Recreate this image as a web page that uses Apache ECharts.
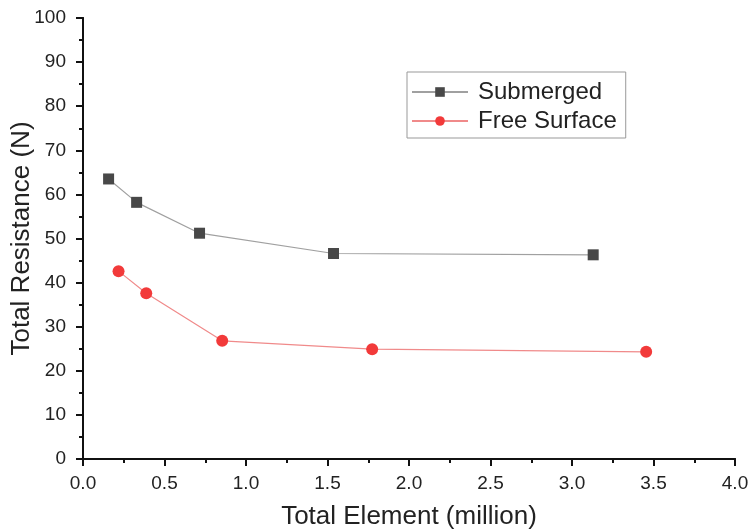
<!DOCTYPE html>
<html>
<head>
<meta charset="utf-8">
<script src="https://cdn.jsdelivr.net/npm/echarts@6/dist/echarts.min.js"></script>
<style>
  html, body { margin: 0; padding: 0; background: #fff; }
  #chart { width: 749px; height: 529px; }
</style>
</head>
<body>
<div id="chart"></div>
<script>
// values
var submergedX = [0.157, 0.329, 0.715, 1.537, 3.13];
var submergedY = [63.5, 58.2, 51.2, 46.6, 46.3];
var freeX = [0.218, 0.388, 0.854, 1.774, 3.455];
var freeY = [42.6, 37.6, 26.8, 24.9, 24.3];

function pairs(xs, ys) {
  var out = [];
  for (var i = 0; i < xs.length; i++) {
    out.push([xs[i], ys[i]]);
  }
  return out;
}

var chart = echarts.init(document.getElementById('chart'));

var FONT = 'Liberation Sans, Arial, sans-serif';
var axisLine = { show: true, lineStyle: { color: '#111', width: 2 } };
var outTick = { show: true, length: 7, lineStyle: { color: '#111', width: 2 } };
var inTick = { show: true, inside: true, length: 7, lineStyle: { color: '#111', width: 2 } };
var minor = { show: true, splitNumber: 2, length: 4, lineStyle: { color: '#111', width: 2 } };

var option = {
  animation: false,
  backgroundColor: '#fff',
  grid: { left: 83, right: 14, top: 18, bottom: 70, containLabel: false, outerBoundsMode: 'none' },
  legend: {
    left: 407,
    top: 72,
    orient: 'vertical',
    itemWidth: 56,
    itemHeight: 12,
    itemGap: 5,
    padding: [8, 9, 5, 4],
    borderColor: '#999',
    borderWidth: 1,
    textStyle: { fontSize: 24, color: '#222', fontFamily: FONT, padding: [0, 0, 0, 5] },
    data: ['Submerged', 'Free Surface']
  },
  xAxis: [{
    type: 'value',
    min: 0, max: 4, interval: 0.5,
    name: 'Total Element (million)',
    nameLocation: 'middle',
    nameGap: 45,
    nameMoveOverlap: false,
    nameTextStyle: { fontSize: 26, color: '#222', fontFamily: FONT },
    axisLine: axisLine,
    axisTick: outTick,
    minorTick: minor,
    splitLine: { show: false },
    axisLabel: {
      margin: 15,
      fontSize: 19,
      color: '#222',
      fontFamily: FONT,
      formatter: function (v) { return v.toFixed(1); }
    }
  }, {
    type: 'value',
    position: 'top',
    min: 0, max: 4, interval: 0.5,
    axisLine: axisLine,
    axisTick: inTick,
    minorTick: minor,
    splitLine: { show: false },
    axisLabel: { show: false }
  }],
  yAxis: [{
    type: 'value',
    min: 0, max: 100, interval: 10,
    name: 'Total Resistance (N)',
    nameLocation: 'middle',
    nameGap: 48,
    nameMoveOverlap: false,
    nameTextStyle: { fontSize: 26, color: '#222', fontFamily: FONT },
    axisLine: axisLine,
    axisTick: outTick,
    minorTick: minor,
    splitLine: { show: false },
    axisLabel: { margin: 17, fontSize: 19, color: '#222', fontFamily: FONT }
  }, {
    type: 'value',
    position: 'right',
    min: 0, max: 100, interval: 10,
    axisLine: axisLine,
    axisTick: inTick,
    minorTick: minor,
    splitLine: { show: false },
    axisLabel: { show: false }
  }],
  series: [{
    name: 'Submerged',
    type: 'line',
    symbol: 'rect',
    symbolSize: 11,
    itemStyle: { color: '#484848' },
    lineStyle: { color: '#a0a0a0', width: 1.2 },
    data: pairs(submergedX, submergedY)
  }, {
    name: 'Free Surface',
    type: 'line',
    symbol: 'circle',
    symbolSize: 12,
    itemStyle: { color: '#f23a3a' },
    lineStyle: { color: '#f08a8a', width: 1.2 },
    data: pairs(freeX, freeY)
  }]
};

chart.setOption(option);
</script>
</body>
</html>
